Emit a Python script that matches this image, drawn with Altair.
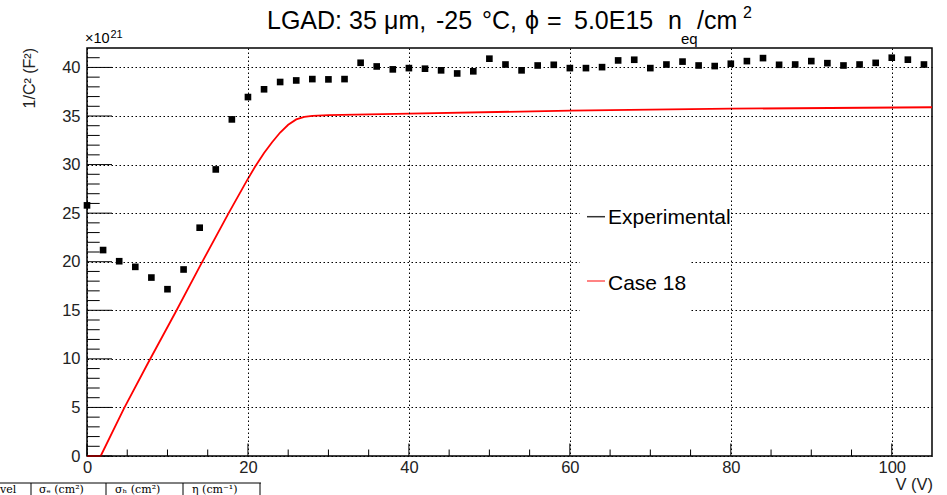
import altair as alt
import pandas as pd

# ---------------- data ----------------
exp_v = [0, 2, 4, 6, 8, 10, 12, 14, 16, 18, 20, 22, 24, 26, 28, 30, 32, 34, 36, 38,
         40, 42, 44, 46, 48, 50, 52, 54, 56, 58, 60, 62, 64, 66, 68, 70, 72, 74, 76, 78,
         80, 82, 84, 86, 88, 90, 92, 94, 96, 98, 100, 102, 104]
exp_y = [25.8, 21.2, 20.05, 19.47, 18.37, 17.17, 19.2, 23.5, 29.5, 34.65, 36.95, 37.75,
         38.5, 38.66, 38.8, 38.77, 38.8, 40.48, 40.1, 39.8, 39.93, 39.87, 39.7, 39.38,
         39.6, 40.9, 40.3, 39.7, 40.2, 40.27, 39.93, 39.93, 40.03, 40.72, 40.79, 39.93,
         40.3, 40.6, 40.2, 40.14, 40.38, 40.65, 40.96, 40.27, 40.3, 40.65, 40.44, 40.2,
         40.3, 40.47, 41.0, 40.8, 40.3]

sim_v = [0, 1.7, 4.6, 7.6, 11.0, 14.2, 17.6, 19.9, 20.9, 22.0, 23.0, 24.0, 25.0, 26.0,
         27.0, 28.0, 30, 40, 60, 80, 105]
sim_y = [0, 0, 4.9, 9.6, 14.8, 19.8, 25.0, 28.4, 29.8, 31.2, 32.3, 33.3, 34.1, 34.65,
         34.92, 35.02, 35.1, 35.25, 35.55, 35.75, 35.9]

x_label_vals = [0, 20, 40, 60, 80, 100]
y_label_vals = [0, 5, 10, 15, 20, 25, 30, 35, 40]
x_minor = [5, 10, 15, 25, 30, 35, 45, 50, 55, 65, 70, 75, 85, 90, 95]
y_minor = [1, 2, 3, 4, 6, 7, 8, 9, 11, 12, 13, 14, 16, 17, 18, 19, 21, 22, 23, 24,
           26, 27, 28, 29, 31, 32, 33, 34, 36, 37, 38, 39, 41]

# title pieces (ROOT TLatex spacing) with their left edges in page pixels
title_words = ["LGAD:", "35", "μm,", "-25", "°C,", "ϕ", "=", "5.0E15", "n", "/cm"]
title_left = [267, 349, 384, 436, 482, 525, 547, 574, 668, 697]
title_sub = "eq"
title_sup = "2"
y_title = "1/C² (F²)"
x_title = "V (V)"
legend_names = ["Experimental", "Case 18"]
table_heads = ["vel", "σₑ (cm²)", "σₕ (cm²)", "η (cm⁻¹)"]

# ---------------- layout ----------------
W, H = 845, 408
PAD_L, PAD_T = 87, 48
FONT = "Liberation Sans"

xs = alt.Scale(domain=[0, 105], nice=False, zero=False)
ys = alt.Scale(domain=[0, 42], nice=False, zero=False)

AX = alt.Axis(values=x_label_vals, grid=True, gridDash=[1.5, 2.5], gridColor="black", gridWidth=1,
              ticks=False, domain=False, labelFont=FONT, labelFontSize=16.5, labelColor="#222",
              labelPadding=3, labelFlush=False, labelOverlap=False, title=None, zindex=1)
AY = alt.Axis(values=y_label_vals, grid=True, gridDash=[1.5, 2.5], gridColor="black", gridWidth=1,
              ticks=False, domain=False, labelFont=FONT, labelFontSize=16.5, labelColor="#222",
              labelPadding=7, labelOverlap=False, title=None, zindex=0)

exp_df = pd.DataFrame({"V": exp_v, "C": exp_y})
sim_df = pd.DataFrame({"V": sim_v, "C": sim_y})
one = pd.DataFrame({"a": [0]})


def txt(text, x, y, size, align="left", baseline="alphabetic", angle=0, font=FONT, color="black"):
    kw = dict(text=text, fontSize=size, align=align, baseline=baseline, font=font, color=color)
    if angle:
        kw["angle"] = angle
    return alt.Chart(one).mark_text(**kw).encode(x=alt.value(x), y=alt.value(y))


def rule(x, x2, y, y2, color="black", width=1):
    return alt.Chart(one).mark_rule(color=color, strokeWidth=width).encode(
        x=alt.value(x), x2=alt.value(x2), y=alt.value(y), y2=alt.value(y2))


def rect(x, x2, y, y2):
    return alt.Chart(one).mark_rect(color="white", opacity=1).encode(
        x=alt.value(x), x2=alt.value(x2), y=alt.value(y), y2=alt.value(y2))


sim_line = alt.Chart(sim_df).mark_line(color="#ff0000", strokeWidth=1.8).encode(
    x=alt.X("V:Q", scale=xs, axis=AX),
    y=alt.Y("C:Q", scale=ys, axis=AY),
)

points = alt.Chart(exp_df).mark_point(shape="square", filled=True, size=44, color="black", opacity=1).encode(
    x=alt.X("V:Q", scale=xs, axis=AX),
    y=alt.Y("C:Q", scale=ys, axis=AY),
)

# inward ROOT-style ticks
ymaj = alt.Chart(pd.DataFrame({"t": y_label_vals})).mark_rule(color="black", strokeWidth=1).encode(
    y=alt.Y("t:Q", scale=ys, axis=AY), x=alt.value(0), x2=alt.value(25))
ymin = alt.Chart(pd.DataFrame({"t": y_minor})).mark_rule(color="black", strokeWidth=1).encode(
    y=alt.Y("t:Q", scale=ys, axis=AY), x=alt.value(0), x2=alt.value(12.7))
xmaj = alt.Chart(pd.DataFrame({"t": x_label_vals})).mark_rule(color="black", strokeWidth=1).encode(
    x=alt.X("t:Q", scale=xs, axis=AX), y=alt.value(H), y2=alt.value(H - 12.5))
xmin = alt.Chart(pd.DataFrame({"t": x_minor})).mark_rule(color="black", strokeWidth=1).encode(
    x=alt.X("t:Q", scale=xs, axis=AX), y=alt.value(H), y2=alt.value(H - 6.5))

# legend (white box hides the horizontal grid)
legend = [
    rect(493, 603, 147, 277),
    rect(493, 644, 152, 178),
    rule(500, 518, 168.7, 168.7, color="#333", width=1.5),
    rule(500, 518, 233, 233, color="#ff5a5a", width=1.5),
    txt(legend_names[0], 521, 176, 21),
    txt(legend_names[1], 521, 242, 21),
]

# titles and annotations (coordinates relative to plot origin)
annots = [txt(w, lx - PAD_L, -19.5, 25) for w, lx in zip(title_words, title_left)]
annots += [
    txt(title_sub, 681 - PAD_L, -3.7, 15),
    txt(title_sup, 743 - PAD_L, -30, 16),
    txt("×10", -2, -4.7, 14.5),
    txt("21", 23.5, -10.5, 11),
    txt(y_title, -57, 0, 16, align="right", baseline="middle", angle=270, color="#222"),
    txt(x_title, 846, 442, 16.5, align="right", color="#222"),
]

# fragment of a table below the figure
TSER = "DejaVu Serif"
table = [
    rule(-87, 174, 435, 435, width=1),
    rule(-56, -56, 435, 448, width=1),
    rule(19, 19, 435, 448, width=1),
    rule(96, 96, 435, 448, width=1),
    rule(173, 173, 435, 448, width=1),
    txt(table_heads[0], -87, 444.5, 11, font=TSER),
    txt(table_heads[1], -48, 444.5, 11, font=TSER),
    txt(table_heads[2], 28, 444.5, 11, font=TSER),
    txt(table_heads[3], 105, 444.5, 11, font=TSER),
]

chart = alt.layer(
    sim_line, ymin, ymaj, xmin, xmaj, *legend, points, *annots, *table
).properties(
    width=W, height=H,
    padding={"left": PAD_L, "top": PAD_T, "right": 947 - PAD_L - W, "bottom": 495 - PAD_T - H},
    autosize="none",
).configure_view(
    stroke="black", strokeWidth=1.5
)

chart.save("out.html", embed_options={"renderer": "svg", "actions": False})
